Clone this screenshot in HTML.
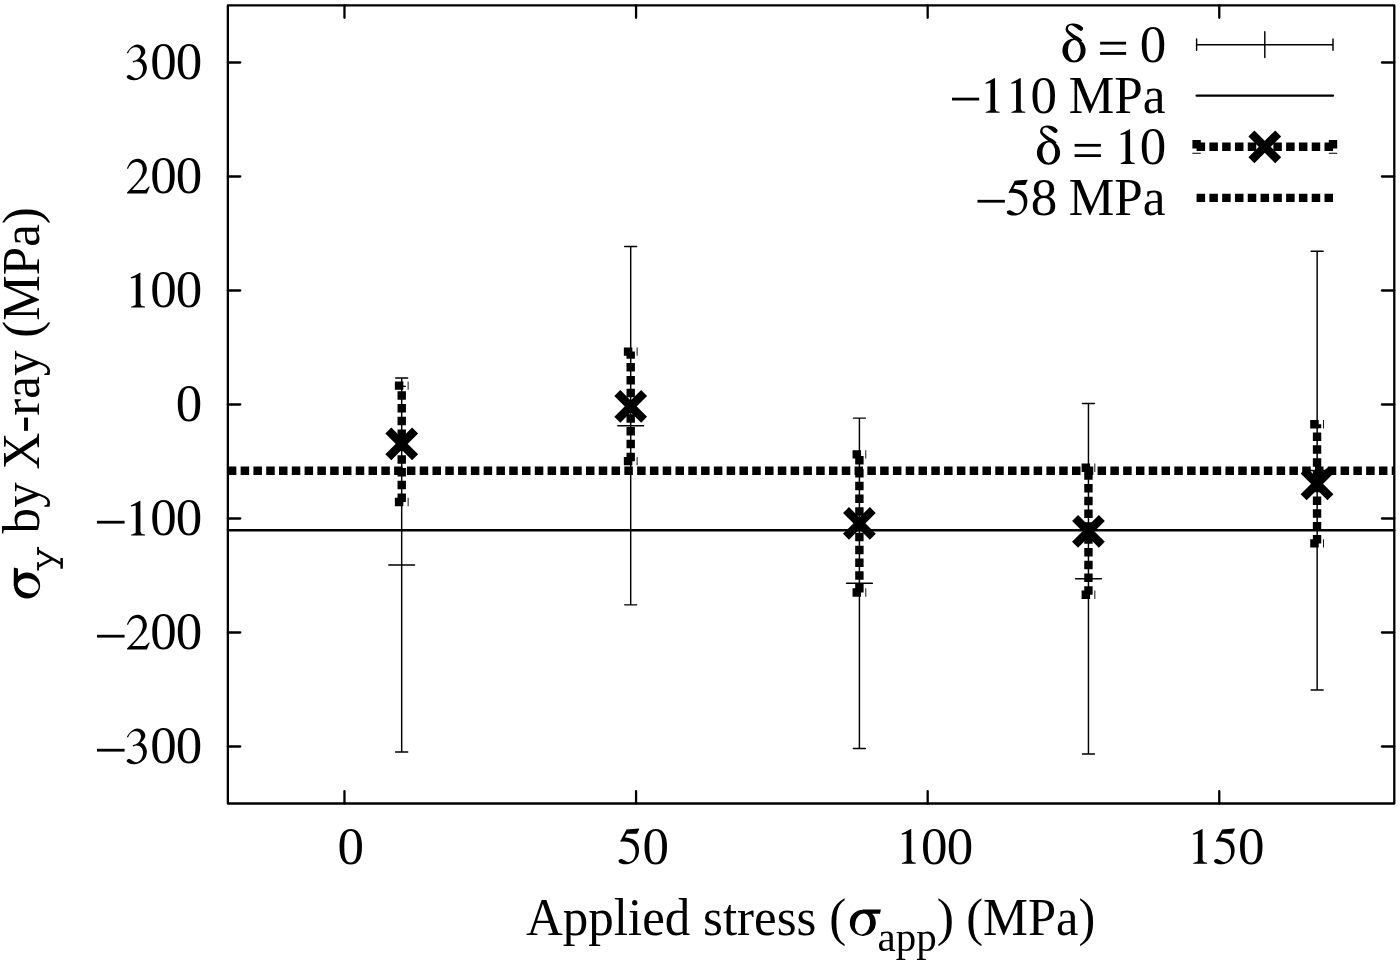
<!DOCTYPE html><html><head><meta charset="utf-8"><style>html,body{margin:0;padding:0;background:#fff;overflow:hidden}svg{display:block}text{font-family:"Liberation Serif",serif}</style></head><body>
<svg width="1400" height="964" viewBox="0 0 1400 964" style="filter:grayscale(1)">
<rect width="1400" height="964" fill="#fff"/>
<defs><path id="sig" d="M0.00,-12.35A13,13.05 0 1,1 26.00,-12.35A13,13.05 0 1,1 0.00,-12.35ZM12.6,-25.75L31.1,-25.6L30.2,-21.45L17,-21.35L12.6,-23ZM5.54,-12.66A7.4,10.25 11 1,0 20.06,-9.84A7.4,10.25 11 1,0 5.54,-12.66Z"/><path id="del" d="M0.00,-11.00A11.6,12.0 0 1,1 23.20,-11.00A11.6,12.0 0 1,1 0.00,-11.00ZM5.50,-11.30A6.4,10.3 0 1,0 18.30,-11.30A6.4,10.3 0 1,0 5.50,-11.30ZM11.46,-22.57C10.03,-23.48 8.17,-25.19 6.89,-26.46C5.60,-27.72 4.33,-29.03 3.74,-30.17C3.15,-31.31 3.09,-32.22 3.34,-33.31C3.60,-34.41 4.22,-35.93 5.29,-36.74C6.35,-37.55 8.05,-38.06 9.74,-38.17C11.44,-38.29 13.89,-37.90 15.46,-37.43C17.03,-36.95 18.31,-35.92 19.17,-35.31C20.03,-34.70 20.38,-34.30 20.60,-33.77C20.82,-33.25 20.68,-32.63 20.49,-32.17C20.30,-31.71 19.84,-31.28 19.46,-31.03C19.08,-30.78 18.68,-30.61 18.20,-30.69C17.72,-30.76 17.34,-30.95 16.60,-31.49C15.86,-32.02 14.89,-33.10 13.74,-33.89C12.60,-34.67 10.93,-35.93 9.74,-36.17C8.55,-36.41 7.29,-35.84 6.60,-35.31C5.91,-34.79 5.63,-33.79 5.63,-33.03C5.63,-32.27 5.63,-31.74 6.60,-30.74C7.57,-29.74 9.70,-28.22 11.46,-27.03C13.22,-25.84 15.79,-24.65 17.17,-23.60C18.55,-22.55 20.03,-21.17 19.74,-20.74C19.46,-20.31 16.84,-20.72 15.46,-21.03C14.08,-21.33 12.89,-21.67 11.46,-22.57Z"/><path id="one" d="M2.63,-34.80L2.72,-3.56L4.00,-1.51L7.19,-0.82L7.19,0.18L-6.72,0.18L-6.72,-0.60L-5.13,-1.19L-2.16,-2.42L-2.02,-3.56L-2.02,-29.79L-6.50,-28.88L-7.18,-29.79L-2.85,-31.84L1.26,-34.13Z"/><path id="five" d="M-2.52,-34.21L9.81,-35.03L10.36,-34.48L7.99,-29.92L-2.06,-29.92L-4.12,-25.99C-4.12,-25.99 -1.91,-25.91 -0.69,-25.67C0.52,-25.42 1.93,-25.13 3.19,-24.52C4.45,-23.92 5.84,-23.08 6.84,-22.01C7.85,-20.95 8.69,-19.46 9.22,-18.13C9.75,-16.80 9.98,-15.46 10.04,-14.02C10.10,-12.57 9.97,-10.90 9.58,-9.45C9.20,-8.00 8.59,-6.59 7.76,-5.34C6.92,-4.08 5.78,-2.83 4.56,-1.91C3.34,-1.00 1.82,-0.29 0.45,0.14C-0.92,0.58 -2.37,0.69 -3.66,0.69C-4.96,0.69 -6.29,0.45 -7.32,0.14C-8.35,-0.16 -9.30,-0.64 -9.83,-1.13C-10.36,-1.63 -10.55,-2.34 -10.52,-2.83C-10.48,-3.31 -10.02,-3.78 -9.60,-4.06C-9.18,-4.34 -8.57,-4.49 -8.00,-4.52C-7.43,-4.54 -6.82,-4.44 -6.18,-4.20C-5.53,-3.95 -4.84,-3.46 -4.12,-3.05C-3.40,-2.65 -2.60,-2.02 -1.84,-1.77C-1.07,-1.53 -0.35,-1.42 0.45,-1.59C1.25,-1.77 2.20,-2.22 2.96,-2.83C3.72,-3.43 4.46,-4.14 5.02,-5.25C5.57,-6.35 6.07,-8.06 6.30,-9.45C6.52,-10.83 6.54,-12.28 6.39,-13.56C6.23,-14.84 5.91,-16.07 5.38,-17.12C4.85,-18.17 4.16,-19.13 3.19,-19.86C2.21,-20.60 0.83,-21.18 -0.47,-21.56C-1.76,-21.93 -3.24,-22.05 -4.58,-22.10C-5.91,-22.16 -8.46,-21.88 -8.46,-21.88L-8.69,-22.42L-2.52,-34.21Z"/><path id="three" d="M-9.88,-26.15C-9.88,-26.15 -9.82,-26.67 -9.34,-27.43C-8.85,-28.19 -7.89,-29.72 -6.96,-30.72C-6.03,-31.73 -4.94,-32.78 -3.76,-33.46C-2.58,-34.15 -1.17,-34.72 0.12,-34.83C1.41,-34.95 2.82,-34.68 4.00,-34.15C5.18,-33.61 6.44,-32.66 7.20,-31.63C7.96,-30.61 8.49,-29.12 8.57,-27.98C8.65,-26.84 8.15,-25.76 7.66,-24.78C7.16,-23.81 6.20,-22.78 5.60,-22.13C5.01,-21.48 4.09,-20.90 4.09,-20.90C4.09,-20.90 6.30,-19.79 7.20,-18.84C8.10,-17.89 8.99,-16.48 9.48,-15.19C9.98,-13.89 10.25,-12.52 10.17,-11.08C10.09,-9.63 9.67,-7.88 9.03,-6.51C8.38,-5.14 7.43,-3.92 6.29,-2.85C5.14,-1.79 3.62,-0.72 2.18,-0.11C0.73,0.50 -0.95,0.72 -2.39,0.80C-3.84,0.88 -5.36,0.65 -6.50,0.34C-7.65,0.04 -8.65,-0.53 -9.25,-1.03C-9.84,-1.52 -10.03,-2.17 -10.07,-2.63C-10.11,-3.08 -9.84,-3.49 -9.47,-3.77C-9.11,-4.05 -8.45,-4.30 -7.87,-4.32C-7.30,-4.33 -6.73,-4.16 -6.05,-3.86C-5.36,-3.55 -4.60,-2.92 -3.76,-2.49C-2.93,-2.05 -2.01,-1.31 -1.02,-1.25C-0.03,-1.20 1.22,-1.60 2.18,-2.17C3.13,-2.74 4.04,-3.65 4.69,-4.68C5.34,-5.71 5.79,-7.19 6.06,-8.34C6.32,-9.48 6.44,-10.39 6.29,-11.53C6.13,-12.68 5.75,-14.21 5.14,-15.19C4.54,-16.16 3.62,-16.92 2.63,-17.38C1.64,-17.84 0.23,-18.04 -0.79,-17.93C-1.82,-17.81 -3.53,-16.70 -3.53,-16.70L-3.99,-18.20C-3.99,-18.20 -1.59,-18.77 -0.57,-19.30C0.46,-19.82 1.41,-20.44 2.18,-21.36C2.94,-22.27 3.66,-23.75 4.00,-24.78C4.35,-25.81 4.38,-26.57 4.23,-27.52C4.08,-28.47 3.66,-29.77 3.09,-30.49C2.52,-31.22 1.64,-31.60 0.80,-31.86C-0.03,-32.13 -1.02,-32.20 -1.94,-32.09C-2.85,-31.98 -3.84,-31.65 -4.68,-31.18C-5.51,-30.71 -6.32,-30.10 -6.96,-29.26C-7.60,-28.42 -8.51,-26.15 -8.51,-26.15L-9.88,-26.15Z"/><path id="two" d="M-11.07,-24.70C-11.07,-24.70 -11.07,-25.23 -10.70,-26.07C-10.34,-26.90 -9.71,-28.54 -8.87,-29.72C-8.04,-30.90 -7.05,-32.32 -5.68,-33.15C-4.31,-33.97 -2.25,-34.62 -0.65,-34.65C0.95,-34.69 2.62,-34.12 3.92,-33.37C5.21,-32.63 6.31,-31.55 7.11,-30.18C7.91,-28.81 8.56,-26.75 8.71,-25.15C8.87,-23.55 8.60,-22.11 8.03,-20.58C7.46,-19.06 6.51,-17.61 5.29,-16.02C4.07,-14.42 2.09,-12.51 0.72,-10.99C-0.65,-9.47 -1.83,-8.14 -2.94,-6.88C-4.04,-5.62 -5.91,-3.45 -5.91,-3.45L7.11,-3.45C7.11,-3.45 8.29,-4.44 8.94,-5.05C9.59,-5.66 11.00,-7.11 11.00,-7.11L11.55,-6.65L8.71,0.07L-10.93,0.20L-11.16,-0.71C-11.16,-0.71 -8.65,-3.34 -7.05,-5.05C-5.45,-6.76 -3.16,-9.09 -1.57,-10.99C0.03,-12.89 1.56,-14.80 2.55,-16.47C3.54,-18.15 4.03,-19.59 4.37,-21.04C4.72,-22.49 4.75,-23.86 4.60,-25.15C4.45,-26.45 4.11,-27.85 3.46,-28.81C2.81,-29.76 1.71,-30.44 0.72,-30.86C-0.27,-31.28 -1.41,-31.43 -2.48,-31.32C-3.55,-31.20 -4.69,-30.82 -5.68,-30.18C-6.67,-29.53 -7.69,-28.35 -8.42,-27.44C-9.14,-26.52 -10.02,-24.70 -10.02,-24.70L-11.07,-24.70Z"/></defs>
<path d="M344.47,803.50V791.10M344.47,5.45V17.85M636.07,803.50V791.10M636.07,5.45V17.85M927.67,803.50V791.10M927.67,5.45V17.85M1219.27,803.50V791.10M1219.27,5.45V17.85M227.85,746.50H240.25M1394.30,746.50H1381.90M227.85,632.50H240.25M1394.30,632.50H1381.90M227.85,518.50H240.25M1394.30,518.50H1381.90M227.85,404.50H240.25M1394.30,404.50H1381.90M227.85,290.50H240.25M1394.30,290.50H1381.90M227.85,176.50H240.25M1394.30,176.50H1381.90M227.85,62.50H240.25M1394.30,62.50H1381.90" stroke="#000" stroke-width="2.3" stroke-linecap="round" fill="none"/>
<path d="M401.68,752.08V377.90M395.68,377.90H407.68M395.68,752.08H407.68M388.78,564.99H414.58M401.68,552.09V577.89M630.70,604.85V246.50M624.70,246.50H636.70M624.70,604.85H636.70M617.80,425.68H643.60M630.70,412.78V438.57M859.42,748.54V418.10M853.42,418.10H865.42M853.42,748.54H865.42M846.52,583.32H872.32M859.42,570.42V596.22M1088.45,753.95V403.40M1082.45,403.40H1094.45M1082.45,753.95H1094.45M1075.55,578.67H1101.35M1088.45,565.77V591.57M1317.15,689.90V251.20M1311.15,251.20H1323.15M1311.15,689.90H1323.15M1304.25,470.55H1330.05M1317.15,457.65V483.45M1196.6,44.65H1333.0M1196.6,38.949999999999996V50.35M1333.0,38.949999999999996V50.35M1251.90,44.65H1277.70M1264.80,31.75V57.55" stroke="#000" stroke-width="1.45" stroke-linecap="round" fill="none"/>
<path d="M227.85,530.25H1394.30M1196.6,95.65H1333.0" stroke="#000" stroke-width="2.3" stroke-linecap="round" fill="none"/>
<path d="M401.72,502.05V385.65M394.87,385.65H408.57M394.87,502.05H408.57M630.70,461.15V351.60M623.85,351.60H637.55M623.85,461.15H637.55M859.40,592.50V454.35M852.55,454.35H866.25M852.55,592.50H866.25M1088.45,594.80V467.80M1081.60,467.80H1095.30M1081.60,594.80H1095.30M1317.05,543.40V424.20M1310.20,424.20H1323.90M1310.20,543.40H1323.90M1196.6,146.8H1333.0M1196.6,139.95V153.65M1333.0,139.95V153.65M227.85,470.75H1394.30M1196.6,197.9H1333.0" stroke="#000" stroke-width="8.4" stroke-dasharray="8.5 4.29" stroke-linecap="butt" fill="none"/>
<path d="M388.32,430.45L415.12,457.25M388.32,457.25L415.12,430.45M617.30,392.98L644.10,419.77M617.30,419.77L644.10,392.98M846.00,510.02L872.80,536.82M846.00,536.82L872.80,510.02M1075.05,517.90L1101.85,544.70M1075.05,544.70L1101.85,517.90M1303.65,470.40L1330.45,497.20M1303.65,497.20L1330.45,470.40M1251.40,133.40L1278.20,160.20M1251.40,160.20L1278.20,133.40" stroke="#000" stroke-width="8.45" stroke-linecap="butt" fill="none"/>
<rect x="227.85" y="5.45" width="1166.45" height="798.05" fill="none" stroke="#000" stroke-width="2.3" stroke-linejoin="round"/>
<use href="#three" transform="translate(136.70,763.40)"/>
<text x="150.15" y="763.40" font-size="53">0</text>
<text x="175.85" y="763.40" font-size="53">0</text>
<rect x="97.00" y="748.80" width="27.60" height="2.8"/>
<use href="#two" transform="translate(138.10,649.40)"/>
<text x="150.15" y="649.40" font-size="53">0</text>
<text x="175.85" y="649.40" font-size="53">0</text>
<rect x="97.00" y="634.80" width="27.60" height="2.8"/>
<use href="#one" transform="translate(137.75,535.40)"/>
<text x="150.15" y="535.40" font-size="53">0</text>
<text x="175.85" y="535.40" font-size="53">0</text>
<rect x="97.00" y="520.80" width="27.60" height="2.8"/>
<text x="175.85" y="421.40" font-size="53">0</text>
<use href="#one" transform="translate(137.75,307.40)"/>
<text x="150.15" y="307.40" font-size="53">0</text>
<text x="175.85" y="307.40" font-size="53">0</text>
<use href="#two" transform="translate(138.10,193.40)"/>
<text x="150.15" y="193.40" font-size="53">0</text>
<text x="175.85" y="193.40" font-size="53">0</text>
<use href="#three" transform="translate(136.70,79.40)"/>
<text x="150.15" y="79.40" font-size="53">0</text>
<text x="175.85" y="79.40" font-size="53">0</text>
<text x="337.45" y="863.60" font-size="53">0</text>
<use href="#five" transform="translate(629.00,863.60)"/>
<text x="642.40" y="863.60" font-size="53">0</text>
<use href="#one" transform="translate(908.60,863.60)"/>
<text x="921.00" y="863.60" font-size="53">0</text>
<text x="946.70" y="863.60" font-size="53">0</text>
<use href="#one" transform="translate(1199.90,863.60)"/>
<use href="#five" transform="translate(1224.60,863.60)"/>
<text x="1238.00" y="863.60" font-size="53">0</text>
<text transform="translate(525.96,935.2) scale(0.9812,1)" font-size="52">Applied stress (</text>
<use href="#sig" transform="translate(849.8,935.2)"/>
<text x="877.6" y="950.6" font-size="41">app</text>
<text x="936.7" y="935.2" font-size="52">)</text>
<text transform="translate(966.2,935.2) scale(0.971,1)" font-size="52">(MPa)</text>
<text transform="translate(39.45,533.4) rotate(-90) scale(0.9824,1)" font-size="52">by X-ray (MPa)</text>
<rect x="37.1" y="546.9" width="1.9" height="8"/><rect x="37.1" y="562.2" width="1.9" height="8.3"/><rect x="60.4" y="558" width="2.5" height="10.7"/>
<path d="M38.3,550.9L61,563.6M38.3,566.4L53.2,558.5" stroke="#000" stroke-width="2.5" fill="none"/>
<use href="#sig" transform="translate(39.45,598.6) rotate(-90)"/>
<use href="#del" transform="translate(1062.4,61.60)"/>
<rect x="1100.1" y="41.75" width="26" height="2.8"/><rect x="1100.1" y="52.05" width="26" height="2.8"/>
<text x="1139.85" y="61.60" font-size="53">0</text>
<rect x="952.00" y="97.68" width="27.20" height="2.8"/>
<use href="#one" transform="translate(992.40,112.68)"/>
<use href="#one" transform="translate(1018.10,112.68)"/>
<text x="1030.50" y="112.68" font-size="53">0</text>
<text transform="translate(1068.85,112.68) scale(0.965,1)" font-size="53">MPa</text>
<use href="#del" transform="translate(1036.9,163.76)"/>
<rect x="1074.6" y="143.91" width="26.3" height="2.8"/><rect x="1074.6" y="154.21" width="26.3" height="2.8"/>
<use href="#one" transform="translate(1127.45,163.76)"/>
<text x="1139.85" y="163.76" font-size="53">0</text>
<rect x="977.50" y="199.84" width="27.40" height="2.8"/>
<use href="#five" transform="translate(1017.30,214.84)"/>
<text x="1030.70" y="214.84" font-size="53">8</text>
<text transform="translate(1068.85,214.84) scale(0.965,1)" font-size="53">MPa</text>
</svg></body></html>
